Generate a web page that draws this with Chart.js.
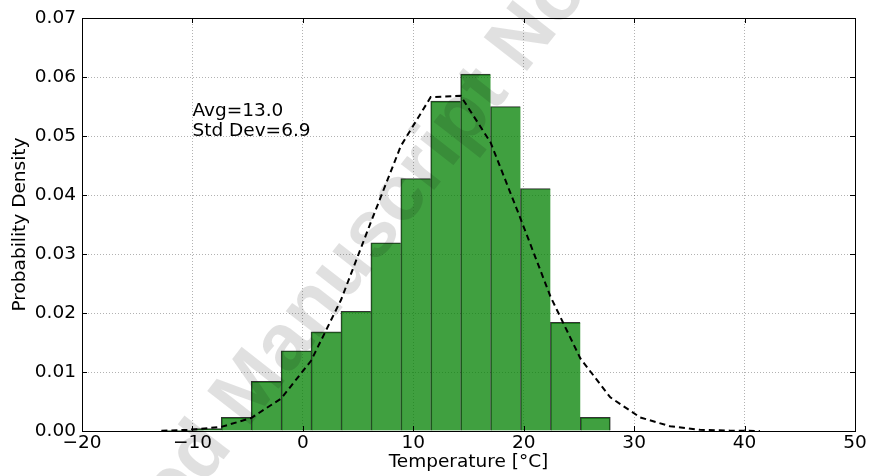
<!DOCTYPE html>
<html>
<head>
<meta charset="utf-8">
<title>Temperature histogram</title>
<script src="https://cdn.jsdelivr.net/npm/chart.js@4.4.1/dist/chart.umd.min.js"></script>
<style>
  html, body { margin: 0; padding: 0; background: #fff; }
</style>
</head>
<body>
<canvas id="histChart" width="869" height="476"></canvas>
<script>
// ----------------------------------------------------
//                 DATA
// ----------------------------------------------------
// bin edges of the histogram (degC)
const binEdges = [-12.81, -10.10, -7.39, -4.68, -1.97, 0.74, 3.45, 6.16, 8.87, 11.58,
                  14.29, 17.00, 19.71, 22.42, 25.13, 27.84, 30.55, 33.26, 35.97, 38.68, 41.39];

// probability density of each bin
const density = [0.0001, 0.0004, 0.0023, 0.0084, 0.0136, 0.0168, 0.0203, 0.0319, 0.0428, 0.0559,
                 0.0605, 0.0550, 0.0411, 0.0184, 0.0023, 0, 0, 0, 0, 0];

// fitted normal curve, taken at the bin edges (dashed line)
const fitPdf = [0.00005, 0.0002, 0.0007, 0.0022, 0.0055, 0.0119, 0.0222, 0.0354, 0.0483, 0.0566,
                0.0568, 0.0489, 0.0360, 0.0228, 0.0123, 0.0057, 0.0023, 0.0008, 0.0002, 0.00006, 0.00001];

const xTicks = [-20, -10, 0, 10, 20, 30, 40, 50];
const yTicks = [0, 0.01, 0.02, 0.03, 0.04, 0.05, 0.06, 0.07];

const statLines = ["Avg=13.0", "Std Dev=6.9"];
const statAt = { x: -10, y: 0.05 };

const watermark = "Accepted Manuscript Not Copyedited";

// ----------------------------------------------------
//                 HELPERS
// ----------------------------------------------------
const FONT = '"DejaVu Sans", sans-serif';
const FS = 18.5;
const minus = v => String(v).replace("-", "\u2212");

const barPoints = density.map((d, i) => ({ x: (binEdges[i] + binEdges[i + 1]) / 2, y: d }));
const fitPoints = fitPdf.map((p, i) => ({ x: binEdges[i], y: p }));

// frame, inward ticks and the stats text
const decorPlugin = {
  id: "decor",
  afterDatasetsDraw(chart) {
    const { ctx, chartArea: a, scales: { x, y } } = chart;
    ctx.save();

    // ticks pointing inside, on all four sides
    ctx.strokeStyle = "#000";
    ctx.lineWidth = 1;
    ctx.beginPath();
    xTicks.forEach(v => {
      const px = Math.round(x.getPixelForValue(v)) + 0.5;
      ctx.moveTo(px, a.bottom); ctx.lineTo(px, a.bottom - 5);
      ctx.moveTo(px, a.top);    ctx.lineTo(px, a.top + 5);
    });
    yTicks.forEach(v => {
      const py = Math.round(y.getPixelForValue(v)) + 0.5;
      ctx.moveTo(a.left, py);  ctx.lineTo(a.left + 5, py);
      ctx.moveTo(a.right, py); ctx.lineTo(a.right - 5, py);
    });
    ctx.stroke();

    // box
    ctx.strokeRect(Math.round(a.left) + 0.5, Math.round(a.top) + 0.5,
                   Math.round(a.right - a.left), Math.round(a.bottom - a.top));

    // stats
    ctx.fillStyle = "#000";
    ctx.font = FS + "px " + FONT;
    ctx.textAlign = "left";
    ctx.textBaseline = "alphabetic";
    const tx = x.getPixelForValue(statAt.x);
    const ty = y.getPixelForValue(statAt.y);
    statLines.forEach((t, i) => {
      ctx.fillText(t, tx, ty - (statLines.length - 1 - i) * 20);
    });
    ctx.restore();
  },
  afterDraw(chart) {
    // grey watermark across the figure
    const ctx = chart.ctx;
    ctx.save();
    ctx.font = 'bold 80px "Liberation Sans", Arial, sans-serif';
    const off = ctx.measureText("Accepted ").width + ctx.measureText("M").width / 2;
    ctx.translate(245, 385);
    ctx.rotate(-52 * Math.PI / 180);
    ctx.fillStyle = "rgba(0,0,0,0.12)";
    ctx.textBaseline = "alphabetic";
    ctx.fillText(watermark, -off, 29);
    ctx.restore();
  }
};

// ----------------------------------------------------
//                 CHART
// ----------------------------------------------------
const lastBar = density.reduce((k, d, i) => (d > 0 ? i : k), 0);

new Chart(document.getElementById("histChart"), {
  data: {
    datasets: [
      {
        type: "line",
        data: fitPoints,
        borderColor: "#000",
        borderWidth: 2,
        borderDash: [6, 4],
        pointRadius: 0,
        tension: 0,
        fill: false,
        order: 0
      },
      {
        type: "bar",
        data: barPoints,
        backgroundColor: "rgba(0,128,0,0.75)",
        borderColor: "rgba(0,0,0,0.8)",
        borderWidth: c => ({ left: 1, top: 1, bottom: 0, right: c.dataIndex === lastBar ? 1 : 0 }),
        borderSkipped: false,
        categoryPercentage: 1,
        barPercentage: 1,
        order: 1
      }
    ]
  },
  options: {
    responsive: false,
    devicePixelRatio: 1,
    animation: false,
    layout: { padding: { top: 18, right: 14, left: 0, bottom: 0 } },
    plugins: {
      legend: { display: false },
      tooltip: { enabled: false }
    },
    scales: {
      x: {
        type: "linear",
        min: -20,
        max: 50,
        offset: false,
        afterBuildTicks: s => { s.ticks = xTicks.map(v => ({ value: v })); },
        afterFit: s => { s.height = 45; },
        ticks: {
          autoSkip: false,
          maxRotation: 0,
          padding: 1,
          color: "#000",
          font: { family: FONT, size: FS },
          callback: v => minus(v)
        },
        grid: { offset: false, color: "rgba(0,0,0,0.3)", lineWidth: 1, drawTicks: false },
        border: { display: false, dash: [1, 2] },
        title: {
          display: true,
          text: "Temperature [°C]",
          color: "#000",
          font: { family: FONT, size: FS },
          padding: { top: 0, bottom: 3 }
        }
      },
      y: {
        type: "linear",
        min: 0,
        max: 0.07,
        afterBuildTicks: s => { s.ticks = yTicks.map(v => ({ value: v })); },
        afterFit: s => { s.width = 82; },
        ticks: {
          padding: 6,
          color: "#000",
          font: { family: FONT, size: FS },
          callback: v => v.toFixed(2)
        },
        grid: { color: "rgba(0,0,0,0.3)", lineWidth: 1, drawTicks: false },
        border: { display: false, dash: [1, 2] },
        title: {
          display: true,
          text: "Probability Density",
          color: "#000",
          font: { family: FONT, size: FS },
          padding: { top: 9, bottom: 0 }
        }
      }
    }
  },
  plugins: [decorPlugin]
});
</script>
</body>
</html>
